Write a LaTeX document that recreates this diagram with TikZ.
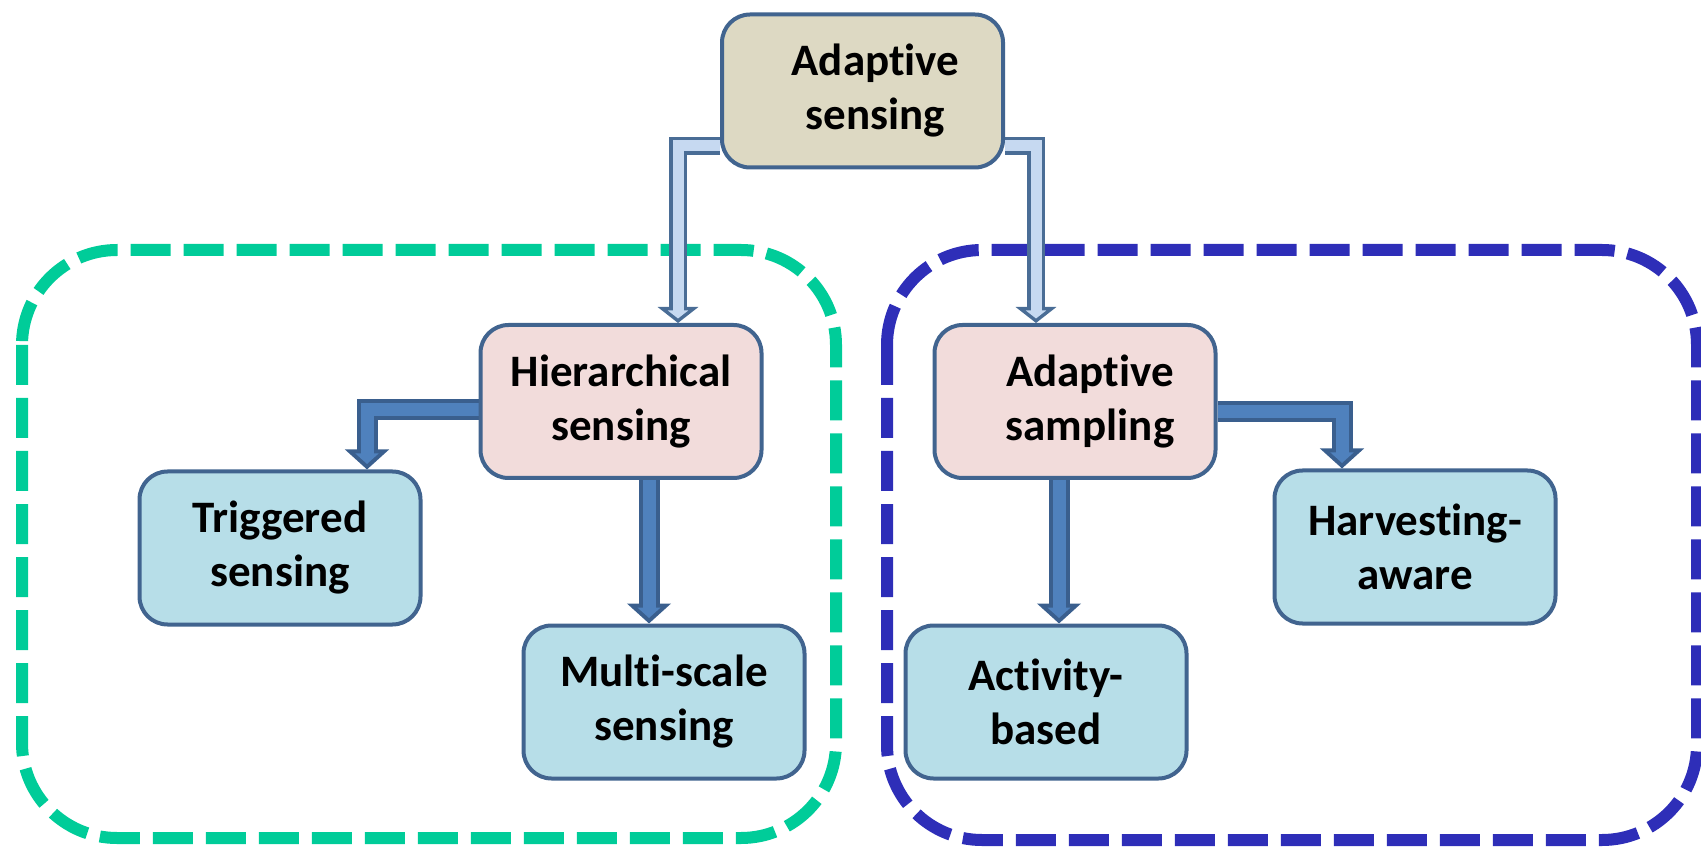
\documentclass[tikz,border=0pt]{standalone}
\usepackage{fontspec}
\setmainfont{Carlito}[Ligatures={NoCommon}]
\usetikzlibrary{arrows.meta,backgrounds,calc}
\definecolor{boxline}{HTML}{41648F}
\definecolor{topfill}{HTML}{DDD9C3}
\definecolor{midfill}{HTML}{F2DCDB}
\definecolor{leaffill}{HTML}{B7DEE8}
\definecolor{arrline}{HTML}{3A5F8E}
\definecolor{arrfill}{HTML}{4F81BD}
\definecolor{lightline}{HTML}{4A6D96}
\definecolor{lightarr}{HTML}{C6D9F1}
\definecolor{grpgreen}{HTML}{00CC99}
\definecolor{grpblue}{HTML}{2E2EB8}
\newcommand\twolayerarrow[3]{\draw[#1] #3; \draw[#2] #3;}
\begin{document}
\begin{tikzpicture}[x=0.5pt,y=-0.5pt,
  box/.style={draw=boxline, line width=2pt, rounded corners=14pt,
    minimum width=140.5pt, minimum height=76.5pt, align=center,
    font=\fontsize{22.5}{27}\selectfont\bfseries, inner sep=0pt},
  topbox/.style={box, fill=topfill},
  midbox/.style={box, fill=midfill},
  leafbox/.style={box, fill=leaffill},
  grpframe/.style={line width=6pt, rounded corners=47.5pt, dash pattern=on 20pt off 6.5pt},
  darrout/.style={line width=10.5pt, draw=arrline, line join=miter, -{Triangle[width=21.5pt,length=10pt]}},
  darrin/.style={line width=6.5pt, draw=arrfill, line join=miter, shorten >=2.75pt, -{Triangle[width=11.3pt,length=5.25pt]}},
  larrout/.style={line width=9pt, draw=lightline, line join=miter, -{Triangle[width=20pt,length=8pt]}},
  larrin/.style={line width=5.5pt, draw=lightarr, line join=miter, shorten >=2.25pt, -{Triangle[width=10pt,length=4pt]}}
]
\useasboundingbox (0,0) rectangle (1701,849);

\node[topbox]  (top)   at (862.5,91)  {\hspace*{13pt}Adaptive\\\hspace*{13pt}sensing};
\node[midbox]  (hier)  at (621,401.5) {Hierarchical\\sensing};
\node[midbox]  (samp)  at (1075,401.5) {\hspace*{15pt}Adaptive\\\hspace*{15pt}sampling};
\node[leafbox] (trig)  at (280,548)   {Triggered\\sensing};
\node[leafbox] (multi) at (664,702)   {Multi-scale\\sensing};
\node[leafbox] (act)   at (1046,702)  {Activity-\\based};
\node[leafbox] (harv)  at (1415,547)  {Harvesting-\\aware};

\begin{scope}[on background layer]
  \draw[grpframe, grpgreen] (22,250) rectangle (836,838);
  \draw[grpframe, grpblue] (887,250) rectangle (1697,840);

  \twolayerarrow{larrout}{larrin}{([yshift=-27.5pt]top.west) -| ([xshift=28.5pt]hier.north)}
  \twolayerarrow{larrout}{larrin}{([yshift=-27.5pt]top.east) -| ([xshift=-19.5pt]samp.north)}

  \twolayerarrow{darrout}{darrin}{([yshift=-4.25pt]hier.west) -| ([xshift=43.5pt]trig.north)}
  \twolayerarrow{darrout}{darrin}{([xshift=14pt]hier.south) -- ([xshift=14pt]hier.south |- multi.north)}
  \twolayerarrow{darrout}{darrin}{([xshift=-8pt]samp.south) -- ([xshift=-8pt]samp.south |- act.north)}
  \twolayerarrow{darrout}{darrin}{([yshift=-5.25pt]samp.east) -| ([xshift=-36.5pt]harv.north)}
\end{scope}
\end{tikzpicture}
\end{document}
